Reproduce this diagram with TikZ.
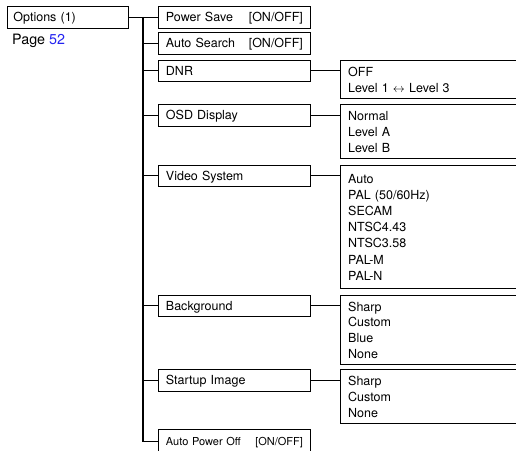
\documentclass[tikz,border=0pt]{standalone}
\usepackage{fontspec}
\setmainfont{TeX Gyre Heros}
\definecolor{pageblue}{RGB}{35,35,240}
\newcommand{\mainsz}{\fontsize{12.5}{15.8}\selectfont}
\newcommand{\vidsz}{\fontsize{12.5}{16.1}\selectfont}
\newcommand{\smallsz}{\fontsize{11}{13}\selectfont}
\newcommand{\pagesz}{\fontsize{14.3}{16}\selectfont}
\tikzset{
  lbox/.style={draw, line width=0.9pt, anchor=north west, inner xsep=7.5pt, inner ysep=0pt,
    minimum height=21.5pt, text width=137pt, text height=9pt, text depth=0pt, align=left, font=\mainsz},
  vbox/.style={draw, line width=0.9pt, anchor=north west, inner sep=0pt, minimum width=190pt},
  vtext/.style={anchor=base west, inner sep=0pt, text width=170pt, align=left, font=\mainsz},
  trunk/.style={line width=1.3pt},
  conn/.style={line width=1pt},
}
\begin{document}
\begin{tikzpicture}[x=1pt, y=-1pt]
\useasboundingbox (0,0) rectangle (516,450);
\clip (0,0) rectangle (516,450);

% root
\node[lbox, text width=109pt, inner xsep=6pt] (opt) at (7,6) {Options (1)};
\node[anchor=base west, inner sep=0pt, font=\pagesz] (page) at (12,44.5) {Page \textcolor{pageblue}{52}};

% level 1 boxes
\node[lbox] (ps)  at (158,6)     {Power Save\hfill[ON/OFF]};
\node[lbox] (as)  at (158,32)    {Auto Search\hfill[ON/OFF]};
\node[lbox] (dnr) at (158,59.5)  {DNR};
\node[lbox] (osd) at (158,104)   {OSD Display};
\node[lbox] (vs)  at (158,164.5) {Video System};
\node[lbox] (bg)  at (158,294.5) {Background};
\node[lbox] (si)  at (158,369)   {Startup Image};
\node[lbox, minimum height=24pt, font=\smallsz, text height=8pt] (apo) at (158,429)
  {Auto Power Off\hfill[ON/OFF]\hspace*{-4.5pt}};

% value boxes
\node[vbox, minimum height=38.5pt]  (dnrv) at (340,59.5) {};
\node[vbox, minimum height=54pt]    (osdv) at (340,104) {};
\node[vbox, minimum height=123.8pt] (vsv)  at (340,164.5) {};
\node[vbox, minimum height=69pt]    (bgv)  at (340,294.5) {};
\node[vbox, minimum height=54pt]    (siv)  at (340,369) {};

\node[vtext] (dnrt) at ([shift={(8,16.7)}]dnrv.north west) {OFF\\Level 1 $\leftrightarrow$ Level 3};
\node[vtext] (osdt) at ([shift={(8,16.7)}]osdv.north west) {Normal\\Level A\\Level B};
\node[vtext, font=\vidsz] (vst) at ([shift={(8,19)}]vsv.north west)
  {Auto\\PAL (50/60Hz)\\SECAM\\NTSC4.43\\NTSC3.58\\PAL-M\\PAL-N};
\node[vtext] (bgt)  at ([shift={(8,16.5)}]bgv.north west) {Sharp\\Custom\\Blue\\None};
\node[vtext] (sit)  at ([shift={(8,16.5)}]siv.north west) {Sharp\\Custom\\None};

% trunk
\coordinate (tk) at (143,16.75);
\draw[trunk] (opt.east) -- (ps.west);
\draw[trunk] (tk) |- (apo.west);
\foreach \n in {as,dnr,osd,vs,bg,si} {
  \draw[trunk] (tk |- \n.west) -- (\n.west);
}

% to value boxes
\foreach \a/\b in {dnr/dnrv,osd/osdv,vs/vsv,bg/bgv,si/siv} {
  \draw[conn] (\a.east) -- (\a.east -| \b.west);
}
\end{tikzpicture}
\end{document}
